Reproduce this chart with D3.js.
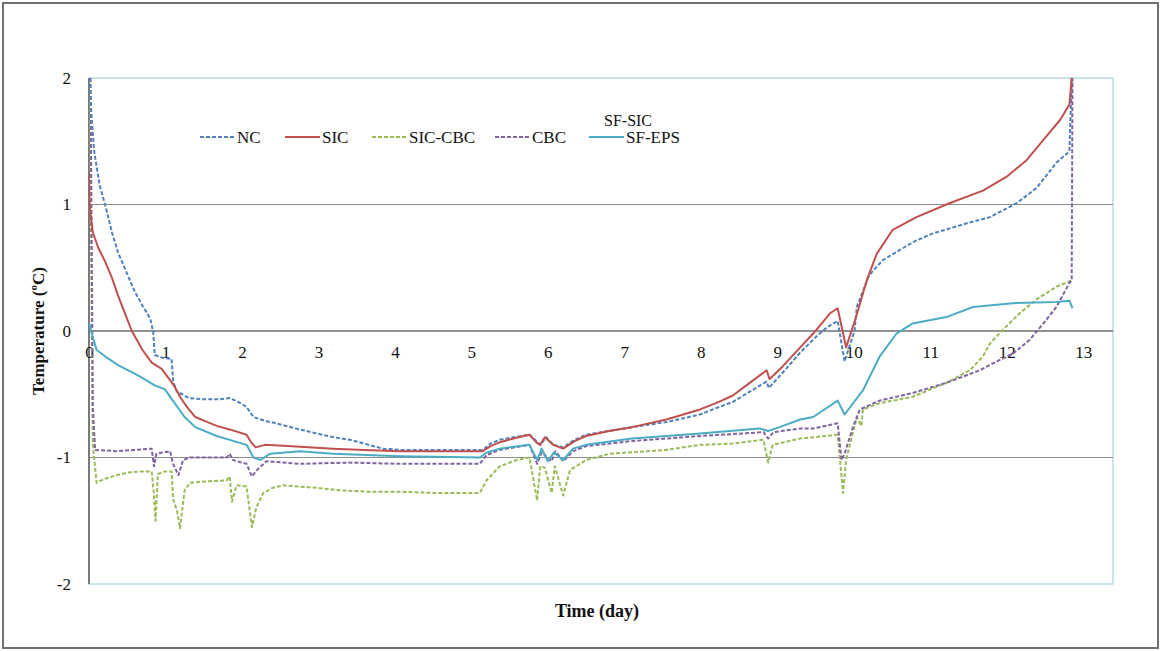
<!DOCTYPE html>
<html>
<head>
<meta charset="utf-8">
<script src="https://cdn.jsdelivr.net/npm/d3@7"></script>
<style>
  html, body { margin: 0; padding: 0; background: #fff; }
  svg { display: block; font-family: "Liberation Serif", "Times New Roman", serif; }
</style>
</head>
<body>
<svg id="chart" width="1161" height="651"></svg>
<script>
// ---------- DATA (day, temperature °C) ----------
const seriesNames = ["NC", "SIC", "SIC-CBC", "CBC", "SF-EPS"];
const xTicks = [0,1,2,3,4,5,6,7,8,9,10,11,12,13];
const yTicks = [-2,-1,0,1,2];
const gridValues = [-1,0,1];

const ncData = [[0.01,2.0],[0.03,1.72],[0.07,1.41],[0.14,1.15],[0.21,1.0],[0.3,0.78],[0.38,0.62],[0.5,0.45],[0.6,0.31],[0.7,0.2],[0.8,0.1],[0.84,-0.01],[0.86,-0.19],[0.95,-0.21],[1.08,-0.22],[1.1,-0.4],[1.15,-0.48],[1.22,-0.5],[1.3,-0.53],[1.5,-0.54],[1.7,-0.54],[1.84,-0.53],[1.95,-0.56],[2.06,-0.6],[2.15,-0.68],[2.3,-0.71],[2.45,-0.73],[2.7,-0.77],[2.98,-0.81],[3.2,-0.84],[3.41,-0.86],[3.6,-0.89],[3.84,-0.93],[4.07,-0.94],[4.5,-0.94],[5.15,-0.94],[5.25,-0.89],[5.37,-0.86],[5.55,-0.84],[5.76,-0.82],[5.85,-0.87],[5.9,-0.9],[5.98,-0.84],[6.07,-0.9],[6.2,-0.92],[6.35,-0.86],[6.5,-0.82],[6.8,-0.79],[7.1,-0.76],[7.55,-0.72],[7.99,-0.66],[8.2,-0.61],[8.42,-0.56],[8.64,-0.48],[8.86,-0.4],[8.89,-0.45],[9.07,-0.33],[9.3,-0.17],[9.5,-0.05],[9.65,0.03],[9.79,0.08],[9.88,-0.24],[10.01,0.0],[10.04,0.19],[10.2,0.44],[10.38,0.56],[10.6,0.64],[10.8,0.71],[11.03,0.77],[11.47,0.85],[11.78,0.9],[12.13,1.01],[12.39,1.13],[12.65,1.33],[12.82,1.42],[12.85,2.0]];

const sicData = [[0.0,1.25],[0.01,0.98],[0.05,0.78],[0.12,0.66],[0.21,0.55],[0.3,0.42],[0.38,0.28],[0.47,0.14],[0.56,0.0],[0.7,-0.15],[0.82,-0.25],[0.95,-0.3],[1.05,-0.38],[1.12,-0.44],[1.2,-0.53],[1.28,-0.6],[1.39,-0.68],[1.55,-0.72],[1.67,-0.75],[1.85,-0.78],[2.06,-0.82],[2.12,-0.88],[2.18,-0.92],[2.3,-0.9],[2.6,-0.91],[3.19,-0.93],[3.6,-0.94],[4.07,-0.95],[5.15,-0.95],[5.25,-0.91],[5.37,-0.88],[5.55,-0.85],[5.76,-0.82],[5.85,-0.88],[5.9,-0.9],[5.96,-0.84],[6.07,-0.9],[6.2,-0.93],[6.35,-0.87],[6.5,-0.83],[6.8,-0.79],[7.1,-0.76],[7.55,-0.7],[7.99,-0.62],[8.2,-0.57],[8.42,-0.51],[8.64,-0.41],[8.86,-0.31],[8.9,-0.38],[9.07,-0.28],[9.3,-0.13],[9.47,-0.02],[9.69,0.14],[9.79,0.18],[9.9,-0.13],[10.03,0.11],[10.17,0.4],[10.3,0.61],[10.51,0.8],[10.82,0.9],[11.25,1.01],[11.69,1.11],[12.0,1.22],[12.26,1.35],[12.48,1.51],[12.7,1.67],[12.82,1.79],[12.85,2.0]];

const sicCbcData = [[0.01,2.0],[0.05,-0.9],[0.1,-1.2],[0.2,-1.17],[0.36,-1.14],[0.5,-1.12],[0.67,-1.11],[0.82,-1.11],[0.85,-1.3],[0.87,-1.5],[0.9,-1.13],[1.0,-1.11],[1.08,-1.11],[1.1,-1.33],[1.15,-1.42],[1.19,-1.56],[1.25,-1.26],[1.32,-1.2],[1.5,-1.19],[1.8,-1.18],[1.84,-1.15],[1.87,-1.35],[1.93,-1.22],[2.06,-1.23],[2.13,-1.55],[2.19,-1.39],[2.28,-1.28],[2.4,-1.24],[2.54,-1.22],[2.98,-1.24],[3.3,-1.26],[3.63,-1.27],[4.07,-1.27],[4.5,-1.28],[5.11,-1.28],[5.2,-1.18],[5.37,-1.07],[5.59,-1.02],[5.76,-1.0],[5.86,-1.34],[5.9,-1.07],[5.96,-1.08],[6.05,-1.28],[6.09,-1.07],[6.2,-1.3],[6.29,-1.1],[6.5,-1.02],[6.81,-0.97],[7.55,-0.94],[7.99,-0.9],[8.42,-0.89],[8.82,-0.86],[8.88,-1.04],[8.94,-0.9],[9.3,-0.85],[9.47,-0.84],[9.79,-0.82],[9.86,-1.28],[9.9,-1.02],[10.04,-0.68],[10.1,-0.75],[10.12,-0.62],[10.34,-0.57],[10.77,-0.52],[11.21,-0.41],[11.52,-0.31],[11.69,-0.2],[11.78,-0.1],[11.95,0.01],[12.17,0.14],[12.39,0.25],[12.65,0.35],[12.85,0.4]];

const cbcData = [[0.02,2.0],[0.05,-0.6],[0.08,-0.94],[0.36,-0.95],[0.6,-0.94],[0.82,-0.93],[0.85,-1.07],[0.88,-0.97],[1.06,-0.95],[1.1,-1.05],[1.17,-1.14],[1.23,-1.02],[1.32,-1.0],[1.8,-1.0],[1.84,-0.97],[1.88,-1.02],[2.06,-1.05],[2.13,-1.15],[2.21,-1.09],[2.32,-1.03],[2.76,-1.05],[3.4,-1.04],[4.07,-1.05],[5.11,-1.05],[5.2,-0.98],[5.37,-0.94],[5.76,-0.9],[5.86,-1.05],[5.92,-0.96],[6.05,-1.03],[6.1,-0.95],[6.2,-1.03],[6.33,-0.95],[6.5,-0.91],[7.1,-0.87],[7.99,-0.83],[8.82,-0.8],[8.88,-0.85],[8.95,-0.8],[9.3,-0.77],[9.47,-0.77],[9.79,-0.73],[9.84,-1.02],[9.88,-0.97],[9.99,-0.76],[10.08,-0.62],[10.34,-0.55],[10.77,-0.49],[11.21,-0.41],[11.65,-0.31],[11.87,-0.24],[12.08,-0.18],[12.3,-0.07],[12.48,0.06],[12.65,0.19],[12.82,0.38],[12.85,0.4],[12.86,2.0]];

const sfEpsData = [[0.0,0.07],[0.05,-0.05],[0.1,-0.15],[0.21,-0.2],[0.38,-0.27],[0.64,-0.35],[0.86,-0.43],[0.99,-0.46],[1.12,-0.57],[1.25,-0.68],[1.39,-0.76],[1.67,-0.83],[2.06,-0.9],[2.15,-1.0],[2.24,-1.02],[2.37,-0.97],[2.76,-0.95],[3.19,-0.97],[4.07,-0.99],[5.11,-1.0],[5.2,-0.96],[5.37,-0.93],[5.76,-0.9],[5.86,-1.02],[5.92,-0.93],[6.0,-1.03],[6.08,-0.96],[6.2,-1.02],[6.33,-0.93],[6.5,-0.9],[7.1,-0.85],[7.99,-0.81],[8.77,-0.77],[8.88,-0.79],[9.03,-0.76],[9.3,-0.7],[9.47,-0.68],[9.79,-0.55],[9.88,-0.66],[10.12,-0.47],[10.34,-0.2],[10.56,-0.02],[10.77,0.06],[11.21,0.11],[11.56,0.19],[12.08,0.22],[12.65,0.23],[12.82,0.24],[12.86,0.18]];

// ---------- LAYOUT ----------
const W = 1161, H = 651;
const plot = { left: 89, right: 1113, top: 78, bottom: 584 };
const svg = d3.select("#chart");

const x = d3.scaleLinear().domain([0, 13.39]).range([plot.left, plot.right]);
const y = d3.scaleLinear().domain([-2, 2]).range([plot.bottom, plot.top]);

// outer frame
svg.append("rect").attr("x", 3).attr("y", 3).attr("width", W - 6).attr("height", H - 6)
  .attr("fill", "#fff").attr("stroke", "#707070").attr("stroke-width", 2);

// plot area border (light blue)
svg.append("rect").attr("x", plot.left).attr("y", plot.top)
  .attr("width", plot.right - plot.left).attr("height", plot.bottom - plot.top)
  .attr("fill", "none").attr("stroke", "#a9d2e0").attr("stroke-width", 1.2);

// gridlines
svg.append("g").selectAll("line").data(gridValues).join("line")
  .attr("x1", plot.left).attr("x2", plot.right)
  .attr("y1", d => y(d)).attr("y2", d => y(d))
  .attr("stroke", d => d === 0 ? "#6e6e6e" : "#8c8c8c").attr("stroke-width", d => d === 0 ? 1.4 : 1);

// y axis line
svg.append("line").attr("x1", plot.left).attr("x2", plot.left)
  .attr("y1", plot.top).attr("y2", plot.bottom)
  .attr("stroke", "#7a7a7a").attr("stroke-width", 2);

// y axis labels
const yAxis = d3.axisLeft(y).tickValues(yTicks).tickSize(0).tickPadding(18)
  .tickFormat(d => String(d));
const gy = svg.append("g").attr("transform", `translate(${plot.left},0)`).call(yAxis);
gy.select(".domain").remove();
gy.selectAll("text").attr("font-family", "Liberation Serif, serif").attr("font-size", 17).attr("fill", "#111");

// x axis labels (placed along the zero line)
const xAxis = d3.axisBottom(x).tickValues(xTicks).tickSize(0).tickPadding(15)
  .tickFormat(d => String(d));
const gx = svg.append("g").attr("transform", `translate(0,${y(0)})`).call(xAxis);
gx.select(".domain").remove();
gx.selectAll("text").attr("font-family", "Liberation Serif, serif").attr("font-size", 17).attr("fill", "#111");

// clip
svg.append("clipPath").attr("id", "clip").append("rect")
  .attr("x", plot.left).attr("y", plot.top - 1)
  .attr("width", plot.right - plot.left).attr("height", plot.bottom - plot.top + 2);

const styles = [
  { name: "NC", data: ncData, color: "#4f81bd", dash: "4,2" },
  { name: "SIC", data: sicData, color: "#c0504d", dash: null },
  { name: "SIC-CBC", data: sicCbcData, color: "#9bbb59", dash: "4,2" },
  { name: "CBC", data: cbcData, color: "#8064a2", dash: "4,2" },
  { name: "SF-EPS", data: sfEpsData, color: "#4bacc6", dash: null }
];

const line = d3.line().x(d => x(d[0])).y(d => y(d[1]));
const gLines = svg.append("g").attr("clip-path", "url(#clip)");
// draw order: green, purple, teal, blue, red
[2, 3, 4, 0, 1].forEach(i => {
  const s = styles[i];
  gLines.append("path").datum(s.data)
    .attr("d", line).attr("fill", "none")
    .attr("stroke", s.color).attr("stroke-width", 2)
    .attr("stroke-linejoin", "round")
    .attr("stroke-dasharray", s.dash);
});

// legend
const legendX = [200, 285, 372, 495, 589];
const legendY = 137;
const lg = svg.append("g");
styles.forEach((s, i) => {
  lg.append("line").attr("x1", legendX[i]).attr("x2", legendX[i] + 35)
    .attr("y1", legendY).attr("y2", legendY)
    .attr("stroke", s.color).attr("stroke-width", 2).attr("stroke-dasharray", s.dash);
  lg.append("text").attr("x", legendX[i] + 37).attr("y", legendY + 6)
    .attr("font-size", 17).attr("fill", "#111").text(s.name);
});
lg.append("text").attr("x", 604).attr("y", 126).attr("font-size", 16).attr("fill", "#111").text("SF-SIC");

// axis titles
svg.append("text").attr("x", 597).attr("y", 617).attr("text-anchor", "middle")
  .attr("font-size", 18).attr("font-weight", "bold").attr("fill", "#111").text("Time (day)");
svg.append("text").attr("transform", "translate(44,331) rotate(-90)").attr("text-anchor", "middle")
  .attr("font-size", 17).attr("font-weight", "bold").attr("fill", "#111").text("Temperature (ºC)");
</script>
</body>
</html>
